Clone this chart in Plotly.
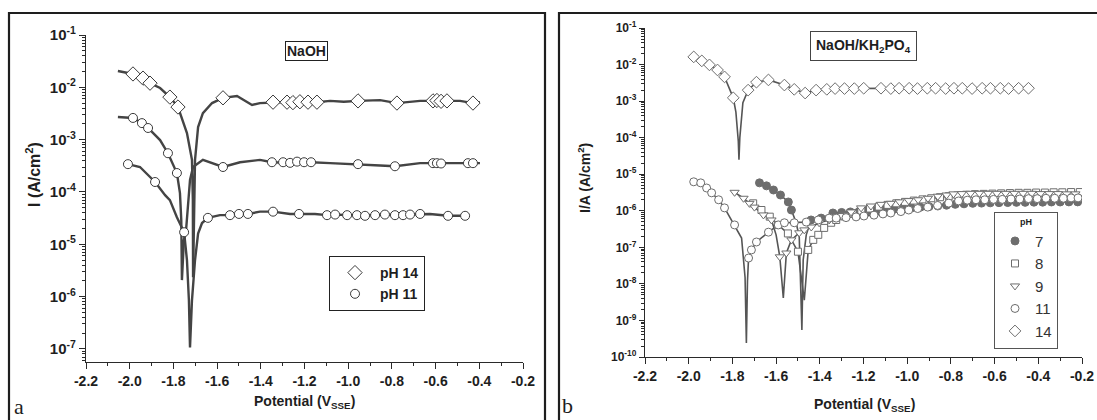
import plotly.graph_objects as go

# ---------------- Panel a : NaOH ----------------
# pH 14 (diamonds) : marker points and extra line points
a14_mk_v = [-1.985, -1.939, -1.907, -1.816, -1.779, -1.573, -1.344, -1.280, -1.253, -1.221, -1.184, -1.143,
            -0.955, -0.777, -0.612, -0.594, -0.575, -0.548, -0.429]
a14_mk_i = [1.8e-2, 1.5e-2, 1.2e-2, 6.5e-3, 4.2e-3, 6.3e-3, 5.2e-3, 5.2e-3, 5.1e-3, 5.3e-3, 5.2e-3, 5.2e-3,
            5.5e-3, 5.0e-3, 5.5e-3, 5.6e-3, 5.4e-3, 5.5e-3, 5.0e-3]
a14_ln_v = [-2.054, -1.861, -1.738, -1.715, -1.711, -1.710, -1.706, -1.701, -1.687, -1.665, -1.623, -1.509,
            -1.440, -1.404, -1.310, -1.083, -1.020, -0.854, -0.700, -0.671, -0.488, -0.397]
a14_ln_i = [2.05e-2, 9.7e-3, 1.34e-3, 4.1e-4, 7.1e-5, 2.35e-6, 1.86e-5, 4.1e-4, 1.74e-3, 3.2e-3, 5.0e-3, 6.8e-3,
            4.6e-3, 5.0e-3, 5.2e-3, 5.5e-3, 5.3e-3, 5.7e-3, 5.4e-3, 5.5e-3, 5.5e-3, 5.2e-3]

# pH 11, upper circle curve
a11u_mk_v = [-1.985, -1.944, -1.916, -1.825, -1.784, -1.573, -1.349, -1.298, -1.266, -1.234, -1.202, -1.170,
             -0.955, -0.786, -0.612, -0.594, -0.575, -0.452, -0.429]
a11u_mk_i = [2.6e-3, 2.07e-3, 1.67e-3, 5.5e-4, 2.3e-4, 3.0e-4, 3.7e-4, 3.7e-4, 3.6e-4, 3.8e-4, 3.7e-4, 3.7e-4,
             3.4e-4, 3.1e-4, 3.55e-4, 3.55e-4, 3.5e-4, 3.55e-4, 3.55e-4]
a11u_ln_v = [-2.054, -1.861, -1.770, -1.764, -1.761, -1.752, -1.742, -1.724, -1.710, -1.665, -1.619, -1.495,
             -1.404, -1.083, -0.854, -0.671, -0.397]
a11u_ln_i = [2.7e-3, 9.8e-4, 9.5e-5, 2.9e-5, 2.07e-6, 1.2e-5, 1.86e-5, 1.7e-4, 3.0e-4, 4.1e-4, 3.55e-4, 3.7e-4,
             4.1e-4, 3.55e-4, 3.2e-4, 3.55e-4, 3.55e-4]

# pH 11, lower circle curve
a11l_mk_v = [-2.008, -1.884, -1.751, -1.642, -1.541, -1.500, -1.459, -1.344, -1.225, -1.097, -1.060, -1.005,
             -0.960, -0.923, -0.877, -0.832, -0.786, -0.749, -0.717, -0.671, -0.543, -0.465]
a11l_mk_i = [3.4e-4, 1.55e-4, 1.7e-5, 3.2e-5, 3.6e-5, 3.8e-5, 3.8e-5, 4.2e-5, 3.8e-5, 3.6e-5, 3.7e-5, 3.6e-5,
             3.6e-5, 3.5e-5, 3.6e-5, 3.7e-5, 3.6e-5, 3.6e-5, 3.7e-5, 3.8e-5, 3.5e-5, 3.5e-5]
a11l_ln_v = [-1.953, -1.838, -1.816, -1.784, -1.738, -1.729, -1.724, -1.715, -1.701, -1.687, -1.669, -1.587,
             -1.404, -1.266, -1.152, -0.626]
a11l_ln_i = [3.0e-4, 8.7e-5, 7.0e-5, 3.3e-5, 5.0e-6, 8.5e-7, 1.07e-7, 8.5e-7, 5.0e-6, 1.6e-5, 2.55e-5, 3.6e-5,
             4.2e-5, 3.8e-5, 3.8e-5, 3.8e-5]

# ---------------- Panel b : NaOH/KH2PO4 ----------------
b7_mk_v = [-1.676, -1.644, -1.612, -1.580, -1.544, -1.530, -1.440, -1.394, -1.340, -1.300, -1.260, -1.220,
           -1.180, -1.140, -1.100, -1.060, -1.020, -0.980, -0.940, -0.900, -0.860, -0.820, -0.780, -0.740,
           -0.700, -0.660, -0.620, -0.580, -0.540, -0.500, -0.460, -0.420, -0.380, -0.340, -0.300, -0.260, -0.220]
b7_mk_i = [5.8e-6, 4.8e-6, 3.7e-6, 2.7e-6, 1.74e-6, 1.05e-6, 5.6e-7, 6.3e-7, 8.7e-7, 9.0e-7, 9.3e-7, 9.6e-7,
           1.0e-6, 1.03e-6, 1.07e-6, 1.1e-6, 1.15e-6, 1.2e-6, 1.25e-6, 1.3e-6, 1.35e-6, 1.42e-6, 1.5e-6, 1.55e-6,
           1.6e-6, 1.62e-6, 1.65e-6, 1.67e-6, 1.68e-6, 1.7e-6, 1.7e-6, 1.72e-6, 1.72e-6, 1.74e-6, 1.74e-6, 1.75e-6, 1.75e-6]
b7_dip_v = [-1.508, -1.494, -1.482, -1.476, -1.462]
b7_dip_i = [4.7e-7, 1.9e-7, 5.5e-10, 4.5e-8, 2.2e-7]

b8_mk_v = [-1.705, -1.667, -1.629, -1.591, -1.546, -1.500, -1.453, -1.430, -1.407, -1.380, -1.348, -1.325,
           -1.290, -1.250, -1.210, -1.170, -1.130, -1.090, -1.050, -1.010, -0.970, -0.930, -0.890, -0.850,
           -0.810, -0.770, -0.730, -0.690, -0.650, -0.610, -0.570, -0.530, -0.490, -0.450, -0.410, -0.370,
           -0.330, -0.290, -0.250, -0.210]
b8_mk_i = [1.6e-6, 1.05e-6, 6.9e-7, 4.1e-7, 2.4e-7, 7.6e-8, 8.5e-8, 1.6e-7, 2.2e-7, 3.4e-7, 4.7e-7, 5.6e-7,
           7.0e-7, 8.5e-7, 1.0e-6, 1.15e-6, 1.3e-6, 1.45e-6, 1.6e-6, 1.75e-6, 1.9e-6, 2.05e-6, 2.2e-6, 2.35e-6,
           2.5e-6, 2.65e-6, 2.75e-6, 2.85e-6, 2.9e-6, 2.95e-6, 3.0e-6, 3.05e-6, 3.1e-6, 3.1e-6, 3.15e-6, 3.15e-6,
           3.2e-6, 3.2e-6, 3.25e-6, 3.25e-6]
b8_dip_v = [-1.485, -1.471, -1.462]
b8_dip_i = [1.3e-8, 3.6e-9, 1.7e-8]

b9_mk_v = [-1.790, -1.749, -1.722, -1.699, -1.658, -1.621, -1.583, -1.553, -1.530, -1.494, -1.471, -1.439,
           -1.403, -1.357, -1.300, -1.257, -1.211, -1.166, -1.120, -1.075, -1.035, -0.993, -0.950, -0.905,
           -0.860, -0.820, -0.788, -0.750, -0.710, -0.670, -0.630, -0.590, -0.550, -0.510, -0.470, -0.430,
           -0.390, -0.350, -0.310, -0.270, -0.230]
b9_mk_i = [3.2e-6, 2.2e-6, 1.6e-6, 1.26e-6, 7.7e-7, 5.6e-7, 5.5e-8, 7.0e-8, 1.6e-7, 2.5e-7, 3.0e-7, 3.6e-7,
           4.7e-7, 5.6e-7, 7.4e-7, 9.3e-7, 1.2e-6, 1.35e-6, 1.5e-6, 1.6e-6, 1.75e-6, 1.9e-6, 2.0e-6, 2.2e-6,
           2.5e-6, 2.7e-6, 2.9e-6, 2.95e-6, 3.0e-6, 3.0e-6, 3.0e-6, 3.0e-6, 3.0e-6, 3.0e-6, 3.0e-6, 3.0e-6,
           2.95e-6, 2.95e-6, 2.95e-6, 2.9e-6, 2.9e-6]
b9_dip_v = [-1.600, -1.567, -1.560]
b9_dip_i = [2.2e-7, 4.1e-9, 2.4e-8]

b11_mk_v = [-1.977, -1.945, -1.918, -1.895, -1.863, -1.836, -1.790, -1.726, -1.713, -1.690, -1.635, -1.590,
            -1.562, -1.517, -1.462, -1.407, -1.357, -1.325, -1.280, -1.234, -1.198, -1.152, -1.111, -1.075,
            -1.029, -0.993, -0.952, -0.906, -0.861, -0.810, -0.765, -0.725, -0.685, -0.645, -0.605, -0.565,
            -0.525, -0.485, -0.445, -0.405, -0.365, -0.325, -0.285, -0.250, -0.218]
b11_mk_i = [6.2e-6, 5.8e-6, 4.2e-6, 3.1e-6, 2.0e-6, 1.2e-6, 4.1e-7, 5.1e-8, 8.5e-8, 1.4e-7, 2.6e-7, 4.1e-7,
            4.7e-7, 4.7e-7, 4.9e-7, 5.6e-7, 6.3e-7, 6.3e-7, 6.5e-7, 6.8e-7, 7.2e-7, 7.6e-7, 8.2e-7, 8.7e-7,
            9.5e-7, 1.05e-6, 1.15e-6, 1.26e-6, 1.4e-6, 1.62e-6, 1.86e-6, 1.95e-6, 2.0e-6, 2.0e-6, 2.05e-6, 2.05e-6,
            2.1e-6, 2.1e-6, 2.15e-6, 2.15e-6, 2.2e-6, 2.2e-6, 2.2e-6, 2.25e-6, 2.25e-6]
b11_dip_v = [-1.758, -1.742, -1.736, -1.731]
b11_dip_i = [1.8e-7, 1.5e-8, 2.4e-10, 1.2e-8]

b14_mk_v = [-1.977, -1.940, -1.905, -1.868, -1.836, -1.796, -1.728, -1.690, -1.635, -1.562, -1.517, -1.467,
            -1.417, -1.368, -1.330, -1.287, -1.242, -1.199, -1.120, -1.075, -1.037, -0.991, -0.953, -0.908,
            -0.870, -0.824, -0.786, -0.748, -0.703, -0.657, -0.619, -0.574, -0.536, -0.490, -0.445]
b14_mk_i = [1.62e-2, 1.26e-2, 9.8e-3, 7.1e-3, 4.6e-3, 1.23e-3, 2.0e-3, 3.3e-3, 3.8e-3, 2.75e-3, 2.1e-3, 1.66e-3,
            2.0e-3, 2.1e-3, 2.2e-3, 2.2e-3, 2.2e-3, 2.25e-3, 2.25e-3, 2.2e-3, 2.25e-3, 2.25e-3, 2.2e-3, 2.25e-3,
            2.25e-3, 2.2e-3, 2.25e-3, 2.25e-3, 2.2e-3, 2.25e-3, 2.25e-3, 2.25e-3, 2.2e-3, 2.25e-3, 2.25e-3]
b14_dip_v = [-1.784, -1.773, -1.770, -1.766, -1.752]
b14_dip_i = [5e-4, 8e-5, 2.5e-5, 1e-4, 9e-4]

x_ticks = [-2.2, -2.0, -1.8, -1.6, -1.4, -1.2, -1.0, -0.8, -0.6, -0.4, -0.2]
x_ticktext = ["-2.2", "-2.0", "-1.8", "-1.6", "-1.4", "-1.2", "-1.0", "-0.8", "-0.6", "-0.4", "-0.2"]
ya_exps = [-1, -2, -3, -4, -5, -6, -7]
yb_exps = [-1, -2, -3, -4, -5, -6, -7, -8, -9, -10]

W, H = 1097, 420
FONT = "Liberation Sans"
TXT = "#1e1e1e"


def merged(v1, i1, v2, i2):
    pts = sorted(zip(list(v1) + list(v2), list(i1) + list(i2)))
    return [p[0] for p in pts], [p[1] for p in pts]


fig = go.Figure()

# ----- panel a lines -----
for mv, mi, lv, li in [(a14_mk_v, a14_mk_i, a14_ln_v, a14_ln_i),
                       (a11u_mk_v, a11u_mk_i, a11u_ln_v, a11u_ln_i),
                       (a11l_mk_v, a11l_mk_i, a11l_ln_v, a11l_ln_i)]:
    xv, yv = merged(mv, mi, lv, li)
    fig.add_trace(go.Scatter(x=xv, y=yv, mode="lines", line=dict(color="#444444", width=2.4),
                             showlegend=False, hoverinfo="skip", xaxis="x", yaxis="y"))

fig.add_trace(go.Scatter(x=a14_mk_v, y=a14_mk_i, mode="markers", name="pH 14", legend="legend",
                         marker=dict(symbol="diamond", size=11, color="white", line=dict(color="#3a3a3a", width=1)),
                         xaxis="x", yaxis="y"))
fig.add_trace(go.Scatter(x=a11u_mk_v, y=a11u_mk_i, mode="markers", name="pH 11", legend="legend", showlegend=False,
                         marker=dict(symbol="circle", size=9, color="white", line=dict(color="#3a3a3a", width=1)),
                         xaxis="x", yaxis="y"))
fig.add_trace(go.Scatter(x=a11l_mk_v, y=a11l_mk_i, mode="markers", name="pH 11", legend="legend",
                         marker=dict(symbol="circle", size=9, color="white", line=dict(color="#3a3a3a", width=1)),
                         xaxis="x", yaxis="y"))

# ----- panel b -----
b_series = [
    ("7", b7_mk_v, b7_mk_i, b7_dip_v, b7_dip_i, "circle", 8, "#6d6d6d"),
    ("8", b8_mk_v, b8_mk_i, b8_dip_v, b8_dip_i, "square", 7, "white"),
    ("9", b9_mk_v, b9_mk_i, b9_dip_v, b9_dip_i, "triangle-down", 8, "white"),
    ("11", b11_mk_v, b11_mk_i, b11_dip_v, b11_dip_i, "circle", 8, "white"),
    ("14", b14_mk_v, b14_mk_i, b14_dip_v, b14_dip_i, "diamond", 9, "white"),
]
for name, mv, mi, dv, di, sym, sz, fill in b_series:
    xv, yv = merged(mv, mi, dv, di)
    fig.add_trace(go.Scatter(x=xv, y=yv, mode="lines", line=dict(color="#555555", width=1.6),
                             showlegend=False, hoverinfo="skip", xaxis="x2", yaxis="y2"))
for name, mv, mi, dv, di, sym, sz, fill in b_series:
    fig.add_trace(go.Scatter(x=mv, y=mi, mode="markers", name=name, legend="legend2",
                             marker=dict(symbol=sym, size=sz, color=fill,
                                         line=dict(color="#6d6d6d", width=1)),
                             xaxis="x2", yaxis="y2"))

# ----- axes -----
def minor_vals(exps):
    lo, hi = min(exps), max(exps)
    vals = []
    for e in range(lo - 1, hi + 1):
        for m in range(2, 10):
            vals.append(m * 10.0 ** e)
    return vals


axis_common = dict(showline=True, linecolor="#2a2a2a", linewidth=1.3, ticks="outside", tickcolor="#2a2a2a",
                   tickwidth=1.2, showgrid=False, zeroline=False, mirror=False, automargin=False)

fig.update_layout(
    width=W, height=H, autosize=False,
    margin=dict(l=0, r=0, t=0, b=0, pad=0, autoexpand=False),
    paper_bgcolor="white", plot_bgcolor="white",
    xaxis=dict(domain=[86 / W, 523 / W], range=[-2.2, -0.2], anchor="y",
               tickvals=x_ticks, ticktext=x_ticktext, ticklen=6,
               tickfont=dict(family=FONT, size=14, color=TXT, weight="bold"),
               minor=dict(tickvals=[-2.1, -1.9, -1.7, -1.5, -1.3, -1.1, -0.9, -0.7, -0.5, -0.3],
                          ticks="outside", ticklen=3, tickcolor="#2a2a2a", tickwidth=1),
               **axis_common),
    yaxis=dict(domain=[1 - 362 / H, 1 - 35 / H], type="log", range=[-7.25, -1], anchor="x",
               tickvals=[10.0 ** e for e in ya_exps], ticktext=["10<sup>%d</sup>" % e for e in ya_exps],
               ticklen=6, tickfont=dict(family=FONT, size=15, color=TXT, weight="bold"),
               minor=dict(tickvals=minor_vals(ya_exps), ticks="outside", ticklen=3, tickcolor="#2a2a2a",
                          tickwidth=1),
               **axis_common),
    xaxis2=dict(domain=[645 / W, 1082 / W], range=[-2.2, -0.2], anchor="y2",
                tickvals=x_ticks, ticktext=x_ticktext, ticklen=6,
                tickfont=dict(family=FONT, size=14, color=TXT, weight="bold"),
                minor=dict(tickvals=[-2.1, -1.9, -1.7, -1.5, -1.3, -1.1, -0.9, -0.7, -0.5, -0.3],
                           ticks="outside", ticklen=3, tickcolor="#2a2a2a", tickwidth=1),
                **axis_common),
    yaxis2=dict(domain=[1 - 357 / H, 1 - 28 / H], type="log", range=[-10, -1], anchor="x2",
                tickvals=[10.0 ** e for e in yb_exps], ticktext=["10<sup>%d</sup>" % e for e in yb_exps],
                ticklen=5, tickfont=dict(family=FONT, size=12, color=TXT, weight="bold"),
                minor=dict(tickvals=minor_vals(yb_exps), ticks="outside", ticklen=2.5, tickcolor="#2a2a2a",
                           tickwidth=1),
                **axis_common),
    legend=dict(x=329 / W, y=1 - 256 / H, xanchor="left", yanchor="top", bgcolor="white",
                bordercolor="#222", borderwidth=1, itemwidth=40, tracegroupgap=0,
                font=dict(family=FONT, size=14, color=TXT, weight="bold")),
    legend2=dict(x=994 / W, y=1 - 212 / H, xanchor="left", yanchor="top", bgcolor="white",
                 bordercolor="#555", borderwidth=1, itemwidth=30, tracegroupgap=0,
                 title=dict(text="pH", side="top center", font=dict(family=FONT, size=9, color=TXT, weight="bold")),
                 font=dict(family=FONT, size=15, color="#333")),
)

# frames around each panel
fig.add_shape(type="rect", xref="paper", yref="paper", x0=9 / W, x1=545 / W, y0=-0.05, y1=1 - 13 / H,
              line=dict(color="#1e1e1e", width=2.2))
fig.add_shape(type="rect", xref="paper", yref="paper", x0=559 / W, x1=1.05, y0=-0.05, y1=1 - 13 / H,
              line=dict(color="#1e1e1e", width=2.2))

annots = [
    dict(x=306 / W, y=1 - 51 / H, text="NaOH", font=dict(family=FONT, size=14, color=TXT, weight="bold"),
         bordercolor="#222", borderwidth=1, borderpad=1),
    dict(x=863 / W, y=1 - 46 / H, text="NaOH/KH<sub>2</sub>PO<sub>4</sub>",
         font=dict(family=FONT, size=14, color=TXT, weight="bold"),
         bordercolor="#444", borderwidth=1, borderpad=5),
    dict(x=33 / W, y=1 - 175 / H, text="I (A/cm<sup>2</sup>)", textangle=-90,
         font=dict(family=FONT, size=16, color=TXT, weight="bold")),
    dict(x=584 / W, y=1 - 178 / H, text="I/A (A/cm<sup>2</sup>)", textangle=-90,
         font=dict(family=FONT, size=14, color=TXT, weight="bold")),
    dict(x=305 / W, y=1 - 402 / H, text="Potential (V<sub>SSE</sub>)",
         font=dict(family=FONT, size=14, color=TXT, weight="bold")),
    dict(x=864 / W, y=1 - 405 / H, text="Potential (V<sub>SSE</sub>)",
         font=dict(family=FONT, size=14, color=TXT, weight="bold")),
    dict(x=19 / W, y=1 - 406 / H, text="a", font=dict(family="Liberation Serif", size=22, color=TXT)),
    dict(x=567 / W, y=1 - 405 / H, text="b", font=dict(family="Liberation Serif", size=22, color=TXT)),
]
for a in annots:
    fig.add_annotation(xref="paper", yref="paper", showarrow=False, xanchor="center", yanchor="middle", **a)

fig.write_html("out.html", config={"displayModeBar": False},
               post_script="document.body.style.margin='0';document.body.style.padding='0';"
                           "document.body.style.overflow='hidden';")
